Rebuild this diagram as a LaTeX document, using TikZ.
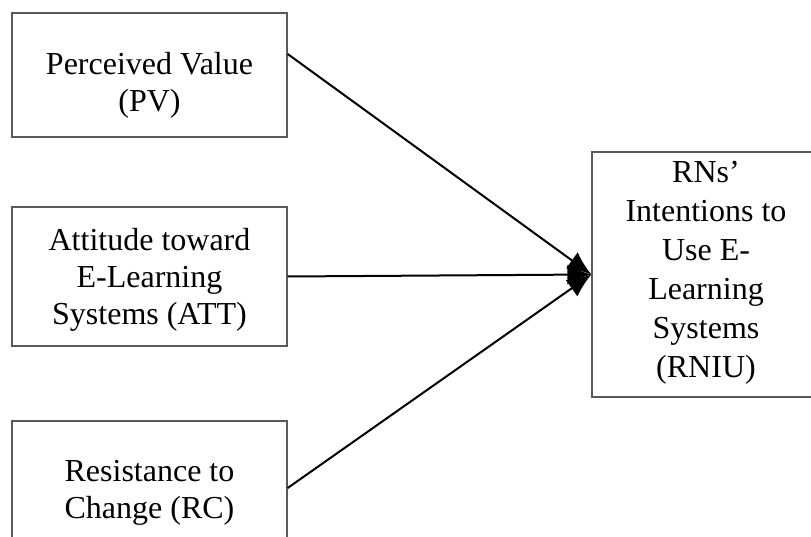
\documentclass[tikz,border=0pt]{standalone}
\usepackage{fontspec}
\setmainfont{Liberation Serif}
\usetikzlibrary{arrows.meta}
\definecolor{boxgray}{RGB}{90,90,90}

\begin{document}
\begin{tikzpicture}[x=1pt, y=-1pt,
  box/.style={draw=boxgray, line width=1.3pt, minimum width=275pt},
  txt/.style={align=center, font=\fontsize{32}{37}\selectfont},
  arr/.style={-{Latex[length=24pt, width=20pt]}, line width=2pt}
]
\useasboundingbox (0,0) rectangle (811,537);
% left column
\node[box, minimum height=124pt] (pv) at (149.5,75) {};
\node[txt] (pvtext) at ([yshift=-10pt]pv.center) {Perceived Value\\(PV)};
\node[box, minimum height=139pt] (att) at (149.5,276.5) {};
\node[txt] (atttext) at ([yshift=-3pt]att.center) {Attitude toward\\E-Learning\\Systems (ATT)};
\node[box, minimum height=124pt] (rc) at (149.5,483) {};
\node[txt] (rctext) at ([yshift=-10pt]rc.center) {Resistance to\\Change (RC)};
% outcome
\node[box, minimum width=228pt, minimum height=245pt] (rniu) at (706,274.5) {};
\node[txt, font=\fontsize{32}{39}\selectfont] (rniutext) at ([yshift=2pt]rniu.center) {RNs’\\Intentions to\\Use E-\\Learning\\Systems\\(RNIU)};

\draw[arr] ([yshift=21pt]pv.east) -- (rniu.west);
\draw[arr] (att.east) -- (rniu.west);
\draw[arr] ([yshift=-5pt]rc.east) -- (rniu.west);
\end{tikzpicture}
\end{document}
